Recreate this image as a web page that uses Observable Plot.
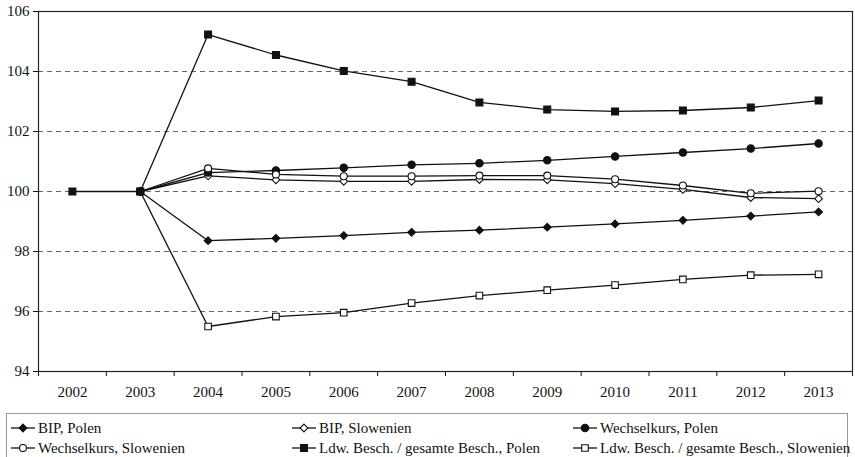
<!DOCTYPE html>
<html>
<head>
<meta charset="utf-8">
<script src="https://cdn.jsdelivr.net/npm/d3@7"></script>
<script src="https://cdn.jsdelivr.net/npm/@observablehq/plot@0.6"></script>
<style>
  html, body { margin: 0; padding: 0; background: #fff; }
  #wrap { position: relative; width: 855px; height: 457px; overflow: hidden; font-family: "Liberation Serif", "Times New Roman", serif; }
  #legend { position: absolute; left: 6px; top: 413px; width: 842px; height: 50px; border: 1px solid #999; box-sizing: border-box; }
  .item { position: absolute; display: flex; align-items: center; font-size: 15px; color: #111; white-space: nowrap; height: 20px; }
  .item svg { margin-right: 3px; }
</style>
</head>
<body>
<div id="wrap"><div id="chart"></div><div id="legend"></div></div>
<script>
// ---- data ----
const years = [2002, 2003, 2004, 2005, 2006, 2007, 2008, 2009, 2010, 2011, 2012, 2013];
const yearsFrom2003 = years.slice(1);
const bipPolen        = [100, 98.36, 98.44, 98.53, 98.64, 98.71, 98.81, 98.92, 99.04, 99.18, 99.32];
const bipSlowenien    = [100, 100.52, 100.39, 100.34, 100.34, 100.40, 100.39, 100.26, 100.07, 99.80, 99.76];
const wkPolen         = [100, 100.63, 100.70, 100.79, 100.89, 100.94, 101.04, 101.17, 101.30, 101.43, 101.60];
const wkSlowenien     = [100, 100.77, 100.57, 100.51, 100.51, 100.53, 100.53, 100.41, 100.20, 99.94, 100.01];
const ldwPolen        = [100, 100, 105.23, 104.55, 104.02, 103.66, 102.97, 102.73, 102.67, 102.70, 102.80, 103.03];
const ldwSlowenien    = [100, 95.50, 95.83, 95.96, 96.28, 96.53, 96.71, 96.88, 97.07, 97.21, 97.24];
const yTicks = [94, 96, 98, 100, 102, 104, 106];
const gridVals = [96, 98, 100, 102, 104];
const seriesNames = [
  "BIP, Polen", "BIP, Slowenien", "Wechselkurs, Polen",
  "Wechselkurs, Slowenien", "Ldw. Besch. / gesamte Besch., Polen", "Ldw. Besch. / gesamte Besch., Slowenien"
];

// ---- build table ----
const defs = [
  {name: seriesNames[0], x: yearsFrom2003, y: bipPolen, symbol: "diamond2", filled: true, r: 3.5},
  {name: seriesNames[1], x: yearsFrom2003, y: bipSlowenien, symbol: "diamond2", filled: false, r: 3.5},
  {name: seriesNames[2], x: yearsFrom2003, y: wkPolen, symbol: "circle", filled: true, r: 3.7},
  {name: seriesNames[3], x: yearsFrom2003, y: wkSlowenien, symbol: "circle", filled: false, r: 3.5},
  {name: seriesNames[5], x: yearsFrom2003, y: ldwSlowenien, symbol: "square", filled: false, r: 3.7},
  {name: seriesNames[4], x: years, y: ldwPolen, symbol: "square", filled: true, r: 3.9}
];
const tables = defs.map(d => d.x.map((x, i) => ({series: d.name, year: x, value: d.y[i]})));
const halfYears = [...years.map(y => y - 0.5), 2013.5];

const marks = [
  Plot.ruleY(gridVals, {stroke: "#666", strokeWidth: 1, strokeDasharray: "5,4"}),
  Plot.frame({stroke: "#222", strokeWidth: 1.2}),
  Plot.axisY({ticks: yTicks, tickSize: 5, tickPadding: 4, tickFormat: d => String(d), fill: "#111", label: null}),
  Plot.axisX({ticks: years, tickSize: 0, tickPadding: 15, tickFormat: d => String(d), fill: "#111", label: null}),
  Plot.axisX({ticks: halfYears, tickSize: 5, tickFormat: () => "", label: null})
];
tables.forEach(t => marks.push(Plot.line(t, {x: "year", y: "value", stroke: "#111", strokeWidth: 1.3})));
defs.forEach((d, k) => marks.push(Plot.dot(tables[k], {
  x: "year", y: "value", symbol: d.symbol, r: d.r,
  fill: d.filled ? "#111" : "#fff", stroke: "#111", strokeWidth: 1.1
})));

const chart = Plot.plot({
  width: 855,
  height: 408,
  marginLeft: 38,
  marginRight: 3,
  marginTop: 11,
  marginBottom: 37,
  style: {fontFamily: "Liberation Serif, Times New Roman, serif", fontSize: "15px", background: "#fff", color: "#111"},
  x: {domain: [2001.5, 2013.5], label: null},
  y: {domain: [94, 106], label: null},
  marks
});
document.getElementById("chart").appendChild(chart);

// ---- legend ----
const symMap = {diamond2: d3.symbolDiamond2, circle: d3.symbolCircle, square: d3.symbolSquare};
const legendDefs = seriesNames.map(n => defs.find(d => d.name === n));
const colX = [4, 285, 566];
const rowY = [4, 24];
const legend = document.getElementById("legend");
legendDefs.forEach((d, i) => {
  const item = document.createElement("div");
  item.className = "item";
  item.style.left = colX[i % 3] + "px";
  item.style.top = rowY[Math.floor(i / 3)] + "px";
  const area = Math.PI * d.r * d.r;
  const path = d3.symbol().type(symMap[d.symbol]).size(area)();
  item.innerHTML = `<svg width="24" height="12"><line x1="0" x2="24" y1="6" y2="6" stroke="#111" stroke-width="1.3"/><path transform="translate(12,6)" d="${path}" fill="${d.filled ? "#111" : "#fff"}" stroke="#111" stroke-width="1.1"/></svg><span>${d.name}</span>`;
  legend.appendChild(item);
});
</script>
</body>
</html>
